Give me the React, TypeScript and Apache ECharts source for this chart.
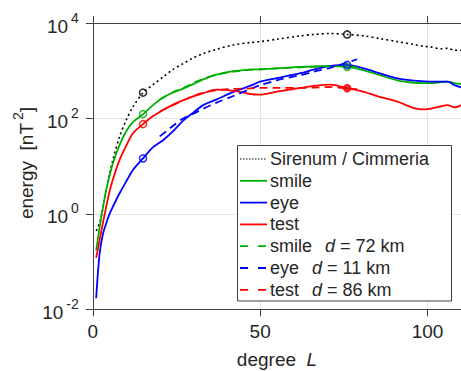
import React, { useEffect, useRef } from "react";
import * as echarts from "echarts";

// spherical harmonic degree L (solid curves)
const L = [1, 2, 3, 4, 5, 6, 8, 10, 12, 15, 18, 21, 24, 27, 30, 33, 37, 42, 47, 50, 55, 62, 66, 71, 76, 81, 86, 91, 96, 99, 101, 104, 106, 108, 110];
const sirenum = [0.44, 0.63, 1.3, 3.2, 6.8, 13.5, 42, 93, 174, 347, 510, 740, 1070, 1410, 1860, 2290, 2820, 3470, 3890, 4070, 4570, 5370, 5750, 6030, 5750, 5370, 4680, 4070, 3550, 3240, 3160, 2880, 2950, 2690, 2690];
const smile = [0.17, 0.5, 1.32, 3.2, 6.3, 11.5, 28, 54, 84, 123, 190, 275, 350, 420, 525, 660, 830, 980, 1050, 1070, 1120, 1200, 1230, 1260, 1200, 1020, 795, 630, 560, 550, 550, 575, 590, 550, 525];
const eye = [0.017, 0.14, 0.37, 0.63, 1.0, 1.41, 2.7, 4.8, 8.3, 14.5, 25, 35, 54, 90, 132, 190, 250, 360, 480, 590, 700, 890, 1050, 1260, 1320, 1120, 870, 690, 620, 600, 590, 590, 590, 500, 450];
const test = [0.12, 0.275, 0.63, 1.41, 2.95, 5.25, 13.5, 27, 49, 76, 112, 150, 195, 240, 290, 340, 400, 380, 325, 316, 365, 435, 480, 510, 430, 360, 280, 225, 165, 155, 160, 180, 190, 170, 190];

// dashed (model) curves
const Ld = [20, 24, 27, 30, 33, 37, 42, 47, 50, 55, 62, 66, 71, 76, 79];
const smileD = [250, 355, 435, 550, 675, 830, 955, 1050, 1070, 1120, 1175, 1200, 1230, 1230, 1175];
const eyeD = [42, 70, 100, 125, 160, 215, 295, 415, 500, 630, 810, 955, 1150, 1480, 1740];
const testD = [140, 190, 240, 295, 345, 390, 415, 425, 435, 435, 435, 445, 455, 425, 410];

// circle markers
const markL = [15, 76];
const sirenumMark = [347, 5750];
const smileMark = [123, 1200];
const eyeMark = [14.5, 1320];
const testMark = [76, 430];

const legendNames = ["Sirenum / Cimmeria", "smile", "eye", "test"];
const sites = ["smile", "eye", "test"];
const depthsKm = [72, 11, 86];

const FONT = "'Liberation Sans', Arial, Helvetica, sans-serif";
const TXT = "#262626";
const AX = "#404040";
const GREEN = "#00b000";
const BLUE = "#0000ff";
const RED = "#ff0000";

export default function App() {
  const ref = useRef<HTMLDivElement>(null);
  useEffect(() => {
    const chart = echarts.init(ref.current!, null, { renderer: "svg" });
    const zip = (xs: number[], ys: number[]) => xs.map((x, i) => [x, ys[i]]);

    const lineSeries = (name: string, xs: number[], ys: number[], color: string, type: any, width = 1.8) => ({
      name,
      type: "line",
      data: zip(xs, ys),
      symbol: "none",
      showSymbol: false,
      smooth: 0.3,
      lineStyle: { color, width, type, cap: "butt" },
      z: 3,
    });

    const markSeries = (ys: number[], color: string, filledLast = false) => ({
      type: "scatter",
      symbol: "circle",
      symbolSize: 7,
      z: 5,
      data: markL.map((x, i) => ({
        value: [x, ys[i]],
        itemStyle: {
          color: filledLast && i === markL.length - 1 ? color : "rgba(0,0,0,0)",
          borderColor: color,
          borderWidth: 1.6,
        },
      })),
    });

    const legendColors = ["#000", GREEN, BLUE, RED, GREEN, BLUE, RED];
    const legendDash: any[] = [[1.5, 1.5], null, null, null, [8, 10], [8, 10], [8, 10]];
    const legendTexts = [
      ...legendNames,
      ...sites.map((s, i) => `${s}  {i|d} = ${depthsKm[i]} km`),
    ];
    const legendTop = 145;
    const rowH = 21.8;
    const legendElems: any[] = [
      {
        type: "rect",
        shape: { x: 237.5, y: legendTop + 0.5, width: 214, height: 155.5 },
        style: { fill: "#fff", stroke: AX, lineWidth: 1 },
        z: 10,
      },
    ];
    legendTexts.forEach((t, i) => {
      const cy = legendTop + 14 + i * rowH;
      legendElems.push({
        type: "line",
        shape: { x1: 240, y1: cy, x2: 267, y2: cy },
        style: {
          stroke: legendColors[i],
          lineWidth: i === 0 ? 1.2 : 1.8,
          lineDash: legendDash[i] || undefined,
        },
        z: 11,
      });
      legendElems.push({
        type: "text",
        x: 270,
        y: cy,
        style: {
          text: t,
          fontSize: 18,
          fontFamily: FONT,
          fill: TXT,
          verticalAlign: "middle",
          align: "left",
          rich: { i: { fontStyle: "italic", fontSize: 18, fontFamily: FONT, fill: TXT, padding: [0, 0, 0, 3] } },
        },
        z: 11,
      });
    });

    const option: any = {
      animation: false,
      textStyle: { fontFamily: FONT },
      grid: { left: 92.8, top: 23, right: 0, bottom: 61.7 },
      xAxis: [
        {
          type: "value",
          min: 0,
          max: 110,
          interval: 50,
          position: "bottom",
          axisLine: { show: true, lineStyle: { color: AX, width: 1 } },
          axisTick: { show: true, inside: false, length: 7, lineStyle: { color: AX } },
          axisLabel: { color: TXT, fontSize: 19, fontFamily: FONT, margin: 13, showMaxLabel: false },
          splitLine: { show: true, lineStyle: { color: "#e3e3e3", width: 1 } },
        },
        {
          type: "value",
          min: 0,
          max: 110,
          interval: 50,
          position: "top",
          axisLine: { show: true, lineStyle: { color: AX, width: 1 } },
          axisTick: { show: true, inside: false, length: 7, lineStyle: { color: AX } },
          axisLabel: { show: false },
          splitLine: { show: false },
        },
      ],
      yAxis: {
        type: "log",
        logBase: 100,
        min: 0.01,
        max: 10000,
        axisLine: { show: true, lineStyle: { color: AX, width: 1 } },
        axisTick: { show: true, inside: false, length: 7, lineStyle: { color: AX } },
        minorTick: { show: false },
        splitLine: { show: true, lineStyle: { color: "#e3e3e3", width: 1 } },
        axisLabel: {
          margin: 14,
          color: TXT,
          formatter: (v: number) => `{b|10}{s|${Math.round(Math.log10(v))}}`,
          rich: {
            b: { fontSize: 19, fontFamily: FONT, color: TXT, verticalAlign: "bottom" },
            s: { fontSize: 14, fontFamily: FONT, color: TXT, verticalAlign: "bottom", padding: [0, 0, 11, 3] },
          },
        },
      },
      series: [
        lineSeries("Sirenum / Cimmeria", L, sirenum, "#000", [2, 3], 1.6),
        lineSeries("smile", L, smile, GREEN, "solid"),
        lineSeries("eye", L, eye, BLUE, "solid"),
        lineSeries("test", L, test, RED, "solid"),
        lineSeries("smileD", Ld, smileD, GREEN, [8, 5]),
        lineSeries("eyeD", Ld, eyeD, BLUE, [8, 5]),
        lineSeries("testD", Ld, testD, RED, [8, 5]),
        markSeries(sirenumMark, "#000"),
        markSeries(smileMark, GREEN),
        markSeries(eyeMark, BLUE),
        markSeries(testMark, RED, true),
      ],
      graphic: [
        {
          type: "text",
          x: 23,
          y: 163,
          rotation: Math.PI / 2,
          style: {
            text: "{b|energy  [nT}{s|2}{b|]}",
            align: "center",
            verticalAlign: "middle",
            fill: TXT,
            rich: {
              b: { fontSize: 19, fontFamily: FONT, fill: TXT, verticalAlign: "bottom" },
              s: { fontSize: 14, fontFamily: FONT, fill: TXT, verticalAlign: "bottom", padding: [0, 0, 11, 3] },
            },
          },
        },
        {
          type: "text",
          x: 277,
          y: 359.5,
          style: {
            text: "{b|degree  }{i|L}",
            align: "center",
            verticalAlign: "middle",
            fill: TXT,
            rich: {
              b: { fontSize: 19, fontFamily: FONT, fill: TXT },
              i: { fontSize: 19, fontFamily: FONT, fill: TXT, fontStyle: "italic" },
            },
          },
        },
        ...legendElems,
      ],
    };
    chart.setOption(option);
    return () => chart.dispose();
  }, []);
  return <div ref={ref} style={{ position: "absolute", left: 0, top: 0, width: 461, height: 371 }} />;
}
